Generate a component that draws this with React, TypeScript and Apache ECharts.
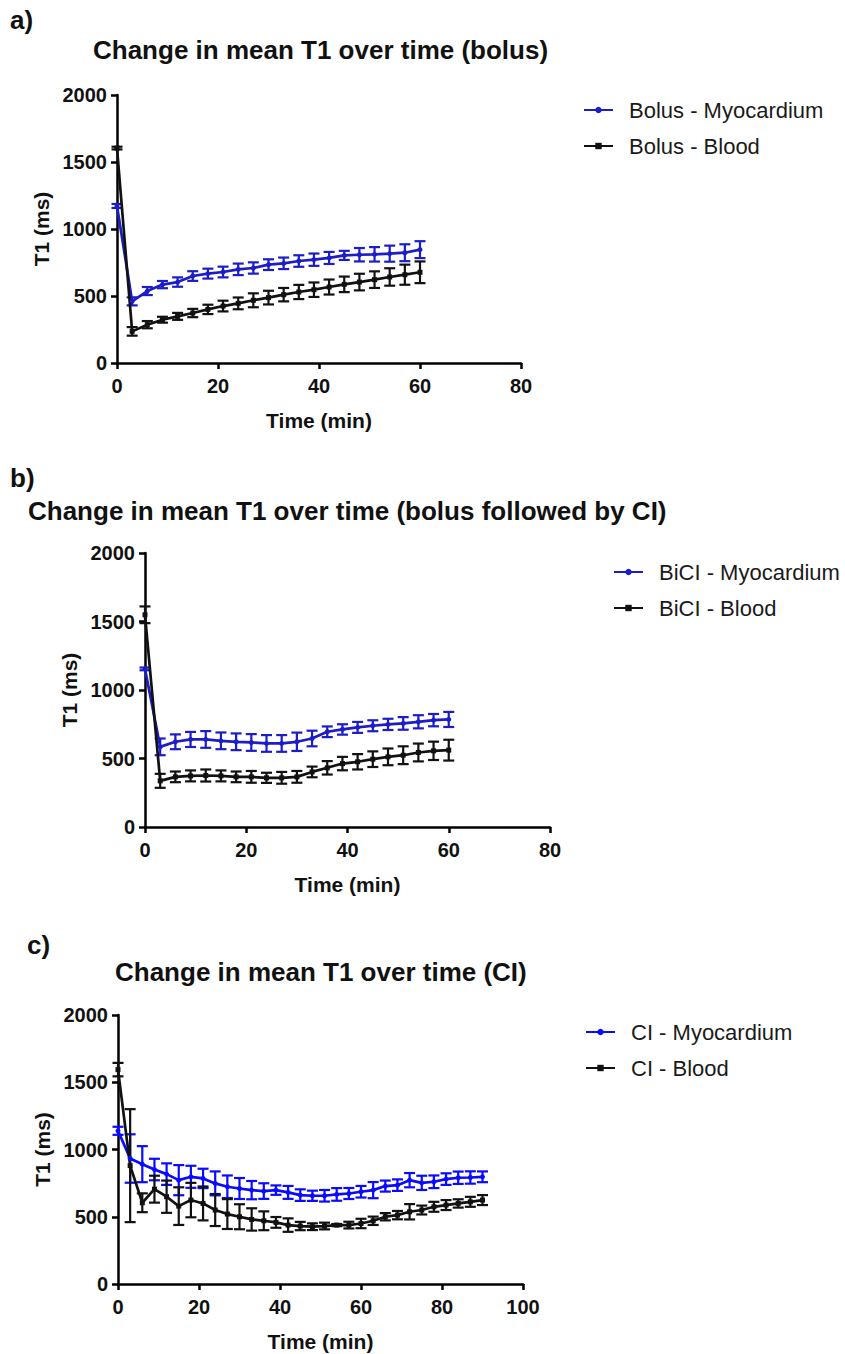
import React, { useEffect, useRef } from "react";
import * as echarts from "echarts";

// ---------- data ----------
const timeAB = [0, 3, 6, 9, 12, 15, 18, 21, 24, 27, 30, 33, 36, 39, 42, 45, 48, 51, 54, 57, 60];
const timeC = [0, 3, 6, 9, 12, 15, 18, 21, 24, 27, 30, 33, 36, 39, 42, 45, 48, 51, 54, 57, 60, 63, 66, 69, 72, 75, 78, 81, 84, 87, 90];

const bolusMyo = [1172, 460, 537, 585, 604, 649, 667, 679, 699, 709, 734, 744, 761, 771, 784, 803, 808, 811, 816, 823, 846];
const bolusMyoErr = [15, 30, 30, 27, 35, 36, 37, 40, 43, 42, 40, 43, 43, 46, 45, 34, 50, 54, 60, 63, 63];
const bolusBlood = [1604, 236, 286, 323, 348, 373, 400, 425, 445, 468, 488, 510, 530, 547, 567, 587, 604, 622, 642, 659, 677];
const bolusBloodErr = [10, 32, 27, 22, 26, 31, 35, 40, 44, 52, 51, 50, 53, 54, 56, 58, 62, 62, 65, 75, 81];

const bicMyo = [1154, 585, 622, 639, 639, 629, 622, 617, 610, 610, 622, 646, 695, 712, 727, 739, 749, 756, 768, 780, 785];
const bicMyoErr = [10, 61, 54, 55, 61, 61, 61, 61, 61, 61, 67, 57, 39, 38, 40, 40, 41, 46, 48, 45, 55];
const bicBlood = [1549, 337, 366, 373, 376, 373, 366, 366, 359, 359, 366, 402, 432, 463, 476, 495, 512, 524, 544, 556, 561];
const bicBloodErr = [61, 51, 39, 40, 44, 40, 39, 43, 37, 43, 43, 39, 49, 49, 56, 57, 61, 65, 65, 67, 76];

const ciMyo = [1139, 933, 891, 851, 817, 772, 797, 785, 748, 723, 710, 698, 691, 698, 681, 661, 656, 656, 666, 673, 686, 698, 728, 735, 772, 752, 760, 780, 790, 792, 797];
const ciMyoErr = [30, 180, 134, 80, 80, 112, 82, 72, 89, 84, 78, 68, 58, 35, 48, 43, 38, 43, 47, 41, 43, 60, 41, 43, 53, 53, 47, 43, 46, 46, 40];
const ciBlood = [1594, 880, 604, 705, 649, 579, 624, 599, 550, 520, 500, 480, 470, 458, 438, 431, 426, 431, 438, 438, 450, 470, 500, 512, 537, 550, 574, 587, 599, 611, 624];
const ciBloodErr = [50, 420, 70, 100, 120, 140, 128, 126, 119, 111, 93, 83, 70, 40, 50, 31, 25, 25, 8, 25, 35, 31, 27, 31, 57, 33, 37, 37, 31, 37, 37];

const panelLabels = ["a)", "b)", "c)"];
const panelTitles = [
  "Change in mean T1 over time (bolus)",
  "Change in mean T1 over time (bolus followed by CI)",
  "Change in mean T1 over time (CI)",
];
const legendNames = [
  ["Bolus - Myocardium", "Bolus - Blood"],
  ["BiCI - Myocardium", "BiCI - Blood"],
  ["CI - Myocardium", "CI - Blood"],
];
const xMax = [80, 80, 100];
const yTicks = { min: 0, max: 2000, interval: 500 };
const xInterval = 20;

// ---------- layout / style ----------
const FONT = "'Liberation Sans', Arial, Helvetica, sans-serif";
const TXT = "#111111";
const BLUE_AB = "#1c1cc8";
const BLUE_C = "#0a0aff";
const BLACK = "#111111";

const grids = [
  { left: 117, top: 95, width: 404, height: 268 },
  { left: 145, top: 553, width: 405, height: 274 },
  { left: 118, top: 1015, width: 405, height: 269 },
];
const labelPos = [
  { left: 10, top: 7 },
  { left: 10, top: 465 },
  { left: 27, top: 932 },
];
const titlePos = [
  { left: 93, top: 37 },
  { left: 28, top: 498 },
  { left: 115, top: 959 },
];
const legendPos = [
  { left: 583, top: 99 },
  { left: 613, top: 561 },
  { left: 585, top: 1021 },
];

function lineSeries(name: string, times: number[], vals: number[], color: string, gi: number, symbol: string) {
  return {
    type: "line",
    name,
    xAxisIndex: gi,
    yAxisIndex: gi,
    data: times.map((t, i) => [t, vals[i]]),
    symbol,
    symbolSize: 5,
    showSymbol: true,
    itemStyle: { color },
    lineStyle: { color, width: 2.7 },
    z: 3,
    silent: true,
  };
}

function errSeries(name: string, times: number[], vals: number[], errs: number[], color: string, gi: number) {
  return {
    type: "custom",
    name,
    xAxisIndex: gi,
    yAxisIndex: gi,
    data: times.map((t, i) => [t, vals[i] - errs[i], vals[i] + errs[i]]),
    encode: { x: 0, y: [1, 2] },
    silent: true,
    z: 2,
    renderItem: (_params: any, api: any) => {
      const x = api.value(0);
      const p1 = api.coord([x, api.value(1)]);
      const p2 = api.coord([x, api.value(2)]);
      const w = 5.5;
      const st = { stroke: color, lineWidth: 2.2 };
      return {
        type: "group",
        children: [
          { type: "line", shape: { x1: p1[0], y1: p1[1], x2: p2[0], y2: p2[1] }, style: st },
          { type: "line", shape: { x1: p1[0] - w, y1: p1[1], x2: p1[0] + w, y2: p1[1] }, style: st },
          { type: "line", shape: { x1: p2[0] - w, y1: p2[1], x2: p2[0] + w, y2: p2[1] }, style: st },
        ],
      };
    },
  };
}

function buildOption() {
  const titles: any[] = [];
  for (let i = 0; i < 3; i++) {
    titles.push({
      text: panelLabels[i],
      ...labelPos[i],
      padding: 0,
      textStyle: { fontSize: 26, fontWeight: "bold", color: TXT, fontFamily: FONT },
    });
    titles.push({
      text: panelTitles[i],
      ...titlePos[i],
      padding: 0,
      textStyle: { fontSize: 26, fontWeight: "bold", color: TXT, fontFamily: FONT },
    });
  }

  const axisCommon = {
    axisLine: { show: true, onZero: false, lineStyle: { color: "#000", width: 2.5 } },
    axisTick: { show: true, length: 6, lineStyle: { color: "#000", width: 2.5 } },
    splitLine: { show: false },
    nameLocation: "middle",
    nameTextStyle: { fontSize: 21, fontWeight: "bold", color: TXT, fontFamily: FONT },
  };
  const fmt = (v: number) => String(v);

  const xAxes = grids.map((_, i) => ({
    ...axisCommon,
    type: "value",
    gridIndex: i,
    min: 0,
    max: xMax[i],
    interval: xInterval,
    name: "Time (min)",
    nameGap: 47,
    axisLabel: { fontSize: 20, fontWeight: "bold", color: TXT, fontFamily: FONT, margin: 13, formatter: fmt },
  }));

  const yAxes = grids.map((_, i) => ({
    ...axisCommon,
    type: "value",
    gridIndex: i,
    min: yTicks.min,
    max: yTicks.max,
    interval: yTicks.interval,
    name: "T1 (ms)",
    nameGap: 65,
    axisLabel: { fontSize: 20, fontWeight: "bold", color: TXT, fontFamily: FONT, margin: 10, formatter: fmt },
  }));

  const legends = legendNames.map((names, i) => ({
    orient: "vertical",
    ...legendPos[i],
    padding: 0,
    itemWidth: 29,
    itemHeight: 8,
    itemGap: 14,
    selectedMode: false,
    textStyle: { fontSize: 22, color: "#1a1a1a", fontFamily: FONT, lineHeight: 22, padding: [0, 0, 0, 11] },
    data: names,
  }));

  const blues = [BLUE_AB, BLUE_AB, BLUE_C];
  const sets = [
    { t: timeAB, m: bolusMyo, me: bolusMyoErr, b: bolusBlood, be: bolusBloodErr },
    { t: timeAB, m: bicMyo, me: bicMyoErr, b: bicBlood, be: bicBloodErr },
    { t: timeC, m: ciMyo, me: ciMyoErr, b: ciBlood, be: ciBloodErr },
  ];
  const series: any[] = [];
  sets.forEach((s, i) => {
    series.push(errSeries(legendNames[i][0] + " SEM", s.t, s.m, s.me, blues[i], i));
    series.push(errSeries(legendNames[i][1] + " SEM", s.t, s.b, s.be, BLACK, i));
    series.push(lineSeries(legendNames[i][0], s.t, s.m, blues[i], i, "circle"));
    series.push(lineSeries(legendNames[i][1], s.t, s.b, BLACK, i, "rect"));
  });

  return {
    animation: false,
    backgroundColor: "#ffffff",
    textStyle: { fontFamily: FONT },
    title: titles,
    legend: legends,
    grid: grids,
    xAxis: xAxes,
    yAxis: yAxes,
    series,
  };
}

export default function App() {
  const ref = useRef<HTMLDivElement>(null);
  useEffect(() => {
    document.body.style.margin = "0";
    const chart = echarts.init(ref.current!, null, { renderer: "svg" });
    chart.setOption(buildOption() as any);
    return () => chart.dispose();
  }, []);
  return <div ref={ref} style={{ width: 845, height: 1354 }} />;
}
